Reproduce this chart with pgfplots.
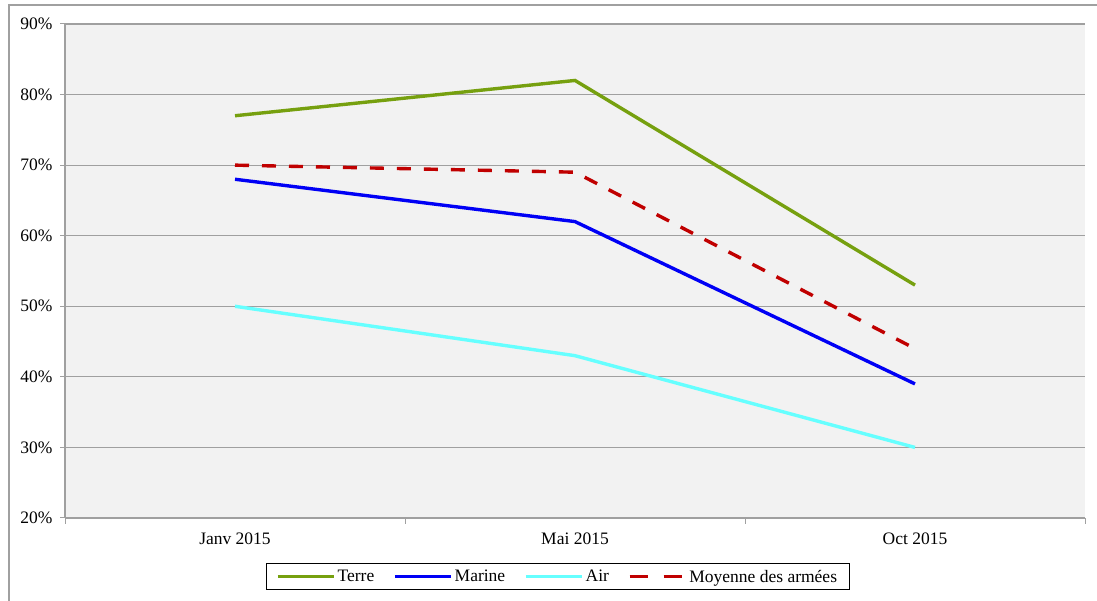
\documentclass[border=0pt]{standalone}
\usepackage{pgfplots}
\pgfplotsset{compat=1.18}
\usepackage{fontspec}
\setmainfont{Liberation Serif}
\definecolor{terre}{HTML}{76A00F}
\definecolor{marine}{HTML}{0000F5}
\definecolor{air}{HTML}{66FFFF}
\definecolor{moy}{HTML}{C00000}
\definecolor{gridc}{HTML}{A0A0A0}
\definecolor{bgc}{HTML}{F2F2F2}
\begin{document}
\begin{tikzpicture}[x=1pt,y=1pt]
\useasboundingbox (0,0) rectangle (1097,601);
\draw[gridc, line width=1.2pt] (9,0) -- (9,596) -- (1097,596);
\begin{axis}[
  at={(65pt,83pt)}, anchor=south west,
  scale only axis, width=1020pt, height=494pt,
  xmin=-0.5, xmax=2.5, ymin=20, ymax=90,
  axis background/.style={fill=bgc},
  axis x line*=bottom, axis y line*=left,
  axis line style={-, gridc, line width=1.2pt},
  xtick={0,1,2}, xticklabels={Janv 2015, Mai 2015, Oct 2015},
  major x tick style={draw=none},
  minor xtick={-0.5,0.5,1.5,2.5},
  minor x tick style={gridc, line width=1pt},
  minor tick length=6pt,
  ytick={20,30,...,90},
  y tick style={gridc, line width=1pt},
  major tick length=5pt,
  tick align=outside,
  ymajorgrids, major grid style={gridc, line width=1.2pt},
  yticklabel={\pgfmathprintnumber{\tick}\%},
  /pgf/number format/assume math mode=true,
  tick label style={font=\fontsize{17.5}{20}\selectfont},
  xticklabel style={yshift=-6pt},
  yticklabel style={xshift=-4pt},
  legend columns=4,
  legend style={at={(0.483,-0.119)}, anchor=center, draw=black, line width=1pt,
    font=\fontsize{17.5}{20}\selectfont, inner xsep=10pt, inner ysep=4pt,
    /tikz/every even column/.append style={column sep=17pt}},
  legend image code/.code={\draw[#1] (0pt,0pt) -- (56pt,0pt);},
  every axis plot/.append style={line width=3.4pt},
]
\addplot[terre, mark=none] coordinates {(0,77) (1,82) (2,53)};
\addlegendentry{Terre}
\addplot[marine, mark=none] coordinates {(0,68) (1,62) (2,39)};
\addlegendentry{Marine}
\addplot[air, mark=none] coordinates {(0,50) (1,43) (2,30)};
\addlegendentry{Air}
\addplot[moy, mark=none, dash pattern=on 14pt off 13pt,
  legend image post style={dash pattern=on 18pt off 16pt}] coordinates {(0,70) (1,69) (2,44)};
\addlegendentry{Moyenne des armées}
\end{axis}
\end{tikzpicture}
\end{document}
